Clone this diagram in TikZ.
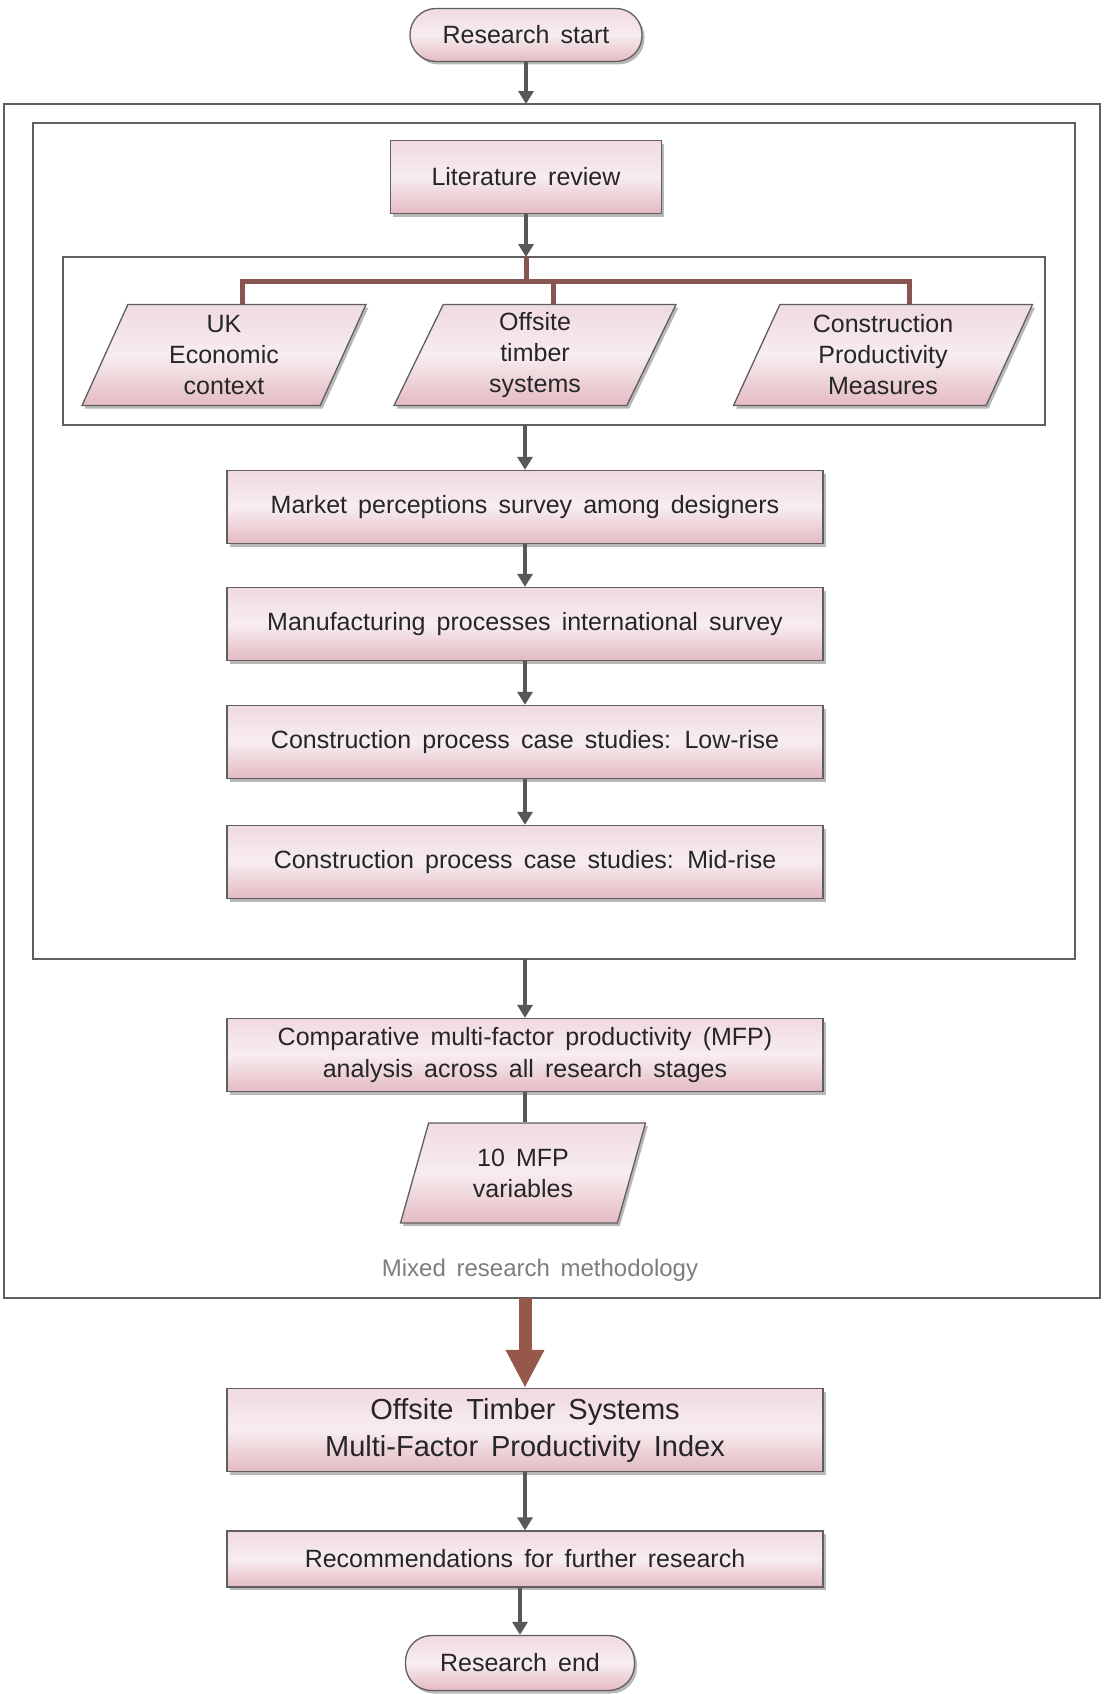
\documentclass[tikz,border=0pt]{standalone}
\usepackage{fontspec}
\setmainfont{Liberation Sans}[WordSpace=1.6]
\usetikzlibrary{shapes.geometric,arrows.meta,positioning,calc}
\definecolor{boxtop}{RGB}{240,218,223}
\definecolor{boxmid}{RGB}{247,237,239}
\definecolor{boxbot}{RGB}{228,186,195}
\definecolor{edgegray}{RGB}{95,95,95}
\definecolor{linkgray}{RGB}{88,88,88}
\definecolor{bracketbrown}{RGB}{135,85,82}
\definecolor{bigbrown}{RGB}{150,88,74}
\definecolor{labelgray}{RGB}{125,125,125}

\tikzset{
  boxshadow/.style={preaction={fill=black!28, transform canvas={xshift=2.5pt,yshift=-3pt}}},
  pinkfill/.style={top color=boxtop, bottom color=boxbot, middle color=boxmid},
  stagebox/.style={rectangle, draw=edgegray, line width=1.3pt, pinkfill, boxshadow,
    minimum width=596pt, minimum height=73pt, align=center,
    font=\fontsize{25}{32}\selectfont, text=black!85},
  termbox/.style={rectangle, rounded corners=26pt, draw=edgegray, line width=1.3pt, pinkfill, boxshadow,
    minimum width=232pt, minimum height=53pt, font=\fontsize{25}{32}\selectfont, text=black!85},
  databox/.style={trapezium, trapezium left angle=60, trapezium right angle=120,
    trapezium stretches body, draw=edgegray, line width=1.3pt, pinkfill, boxshadow,
    minimum width=284pt, minimum height=101pt, inner sep=0pt, align=center,
    font=\fontsize{25}{31}\selectfont, text=black!85},
  frame/.style={rectangle, draw=edgegray, line width=1.6pt, inner sep=0pt, outer sep=0pt},
  flow/.style={draw=linkgray, line width=4pt, -{Triangle[width=15pt,length=13pt]}},
  plainlink/.style={draw=linkgray, line width=4pt},
  bracketline/.style={draw=bracketbrown, line width=5pt, line join=miter},
  bigflow/.style={draw=bigbrown, line width=13pt, -{Triangle[width=36pt,length=38pt]}},
  methodlabel/.style={font=\fontsize{24}{28}\selectfont, text=labelgray}
}

\begin{document}
\begin{tikzpicture}[x=1pt,y=-1pt]
    \useasboundingbox (0,0) rectangle (1104,1694);

    % Frames
    \node[frame, minimum width=1096pt, minimum height=1194pt] (outer) at (552,701) {};
    \node[frame, minimum width=1042pt, minimum height=836pt] (inner) at (554,541) {};
    \node[frame, minimum width=982pt, minimum height=168pt] (group) at (554,341) {};

    % Start and literature
    \node[termbox] (start) at (526,35) {Research start};
    \node[stagebox, minimum width=271pt] (lit) at (526,177) {Literature review};

    % Literature strands
    \node[databox] (uk) at (224,355) {UK\\Economic\\context};
    \node[databox, minimum width=282pt] (ots) at (535,355) {Offsite\\timber\\systems};
    \node[databox, minimum width=299pt] (cpm) at (883,355) {Construction\\Productivity\\Measures};

    % Research stages
    \node[stagebox] (market) at (525,507) {Market perceptions survey among designers};
    \node[stagebox] (manuf) at (525,624) {Manufacturing processes international survey};
    \node[stagebox] (lowrise) at (525,742) {Construction process case studies: Low-rise};
    \node[stagebox] (midrise) at (525,862) {Construction process case studies: Mid-rise};

    % Analysis
    \node[stagebox] (mfp) at (525,1055) {Comparative multi-factor productivity (MFP)\\analysis across all research stages};
    \node[databox, minimum width=245pt, minimum height=100pt] (vars) at (523,1173) {10 MFP\\variables};
    \node[methodlabel] (mixed) at (540,1270) {Mixed research methodology};

    % Outcome
    \node[stagebox, minimum height=83pt, font=\fontsize{29}{37}\selectfont] (index) at (525,1430)
        {Offsite Timber Systems\\Multi-Factor Productivity Index};
    \node[stagebox, minimum height=56pt] (rec) at (525,1559) {Recommendations for further research};
    \node[termbox, minimum width=229pt, minimum height=55pt] (finish) at (520,1663) {Research end};

    % Connectors
    \coordinate (bar) at (526,281);
    \draw[flow] (start.south) -- (start.south |- outer.north);
    \draw[flow] (lit.south) -- (lit.south |- group.north);
    \draw[bracketline] (group.north -| lit.south) -- (bar);
    \draw[bracketline] ([xshift=18pt]uk.north) -- ([xshift=18pt]uk.north |- bar)
        -- ([xshift=26pt]cpm.north |- bar) -- ([xshift=26pt]cpm.north);
    \draw[bracketline] ([xshift=18pt]ots.north) -- ([xshift=18pt]ots.north |- bar);
    \draw[flow] (group.south -| market.north) -- (market.north);
    \draw[flow] (market) -- (manuf);
    \draw[flow] (manuf) -- (lowrise);
    \draw[flow] (lowrise) -- (midrise);
    \draw[flow] (inner.south -| mfp.north) -- (mfp.north);
    \draw[plainlink] (mfp.south) -- (mfp.south |- vars.north);
    \draw[bigflow] (outer.south -| index.north) -- (index.north);
    \draw[flow] (index) -- (rec);
    \draw[flow] (rec.south -| finish.north) -- (finish.north);

\end{tikzpicture}
\end{document}
